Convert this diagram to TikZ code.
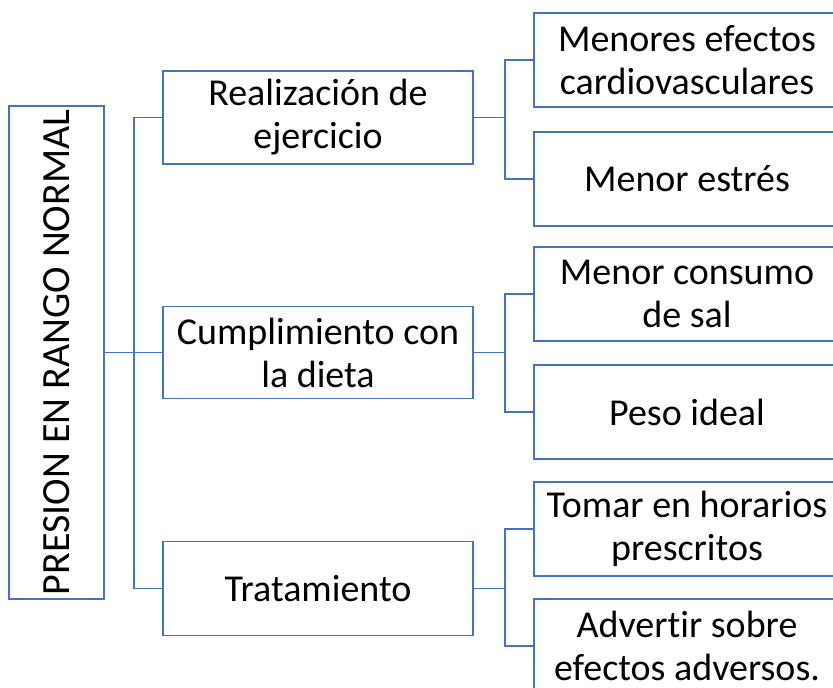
\documentclass[tikz,border=0pt]{standalone}
\usepackage{xcolor}
\usepackage{fontspec}
\setmainfont{Carlito}[Ligatures=NoCommon]
\usepackage{tikz}
\usetikzlibrary{positioning,calc}
\definecolor{boxblue}{HTML}{4472C4}
\tikzset{caja/.style={draw=boxblue, line width=1.8pt, rectangle, inner sep=0pt, align=center, font=\fontsize{38}{43}\selectfont}}
\tikzset{enlace/.style={draw=boxblue, line width=1.8pt}}

\begin{document}
\begin{tikzpicture}[x=1pt,y=-1pt]
\useasboundingbox (0,0) rectangle (833,688);
\node[caja, rotate=90, minimum width=493pt, minimum height=95pt, font=\fontsize{40}{46}\selectfont] (raiz) at (56.5,352.5) {PRESION EN RANGO NORMAL};
\node[caja, minimum width=310pt, minimum height=93pt] (m1) at (318,117.5) {Realización de\\ejercicio};
\node[caja, minimum width=310pt, minimum height=92pt] (m2) at (318,352.5) {Cumplimiento con\\la dieta};
\node[caja, minimum width=310pt, minimum height=94pt] (m3) at (318,588.5) {Tratamiento};
\node[caja, minimum width=306pt, minimum height=94pt] (r1) at (687,60) {Menores efectos\\cardiovasculares};
\node[caja, minimum width=306pt, minimum height=94pt] (r2) at (687,179) {Menor estrés};
\node[caja, minimum width=306pt, minimum height=94pt] (r3) at (687,294) {Menor consumo\\de sal};
\node[caja, minimum width=306pt, minimum height=94pt] (r4) at (687,412) {Peso ideal};
\node[caja, minimum width=306pt, minimum height=94pt] (r5) at (687,529) {Tomar en horarios\\prescritos};
\node[caja, minimum width=306pt, minimum height=94pt] (r6) at (687,646) {Advertir sobre\\efectos adversos.};
\coordinate (t0) at (134,352.5);
\draw[enlace] (raiz.south) -- (t0);
\foreach \m in {m1,m2,m3} {
\draw[enlace] (\m.west) -| (t0);};
\foreach \m/\a/\b in {m1/r1/r2, m2/r3/r4, m3/r5/r6} {
\coordinate (t\m) at ($(\m.east)+(31,0)$);
\draw[enlace] (\m.east) -- (t\m);
\draw[enlace] (\a.west) -| (t\m);
\draw[enlace] (\b.west) -| (t\m);};
\end{tikzpicture}
\end{document}
